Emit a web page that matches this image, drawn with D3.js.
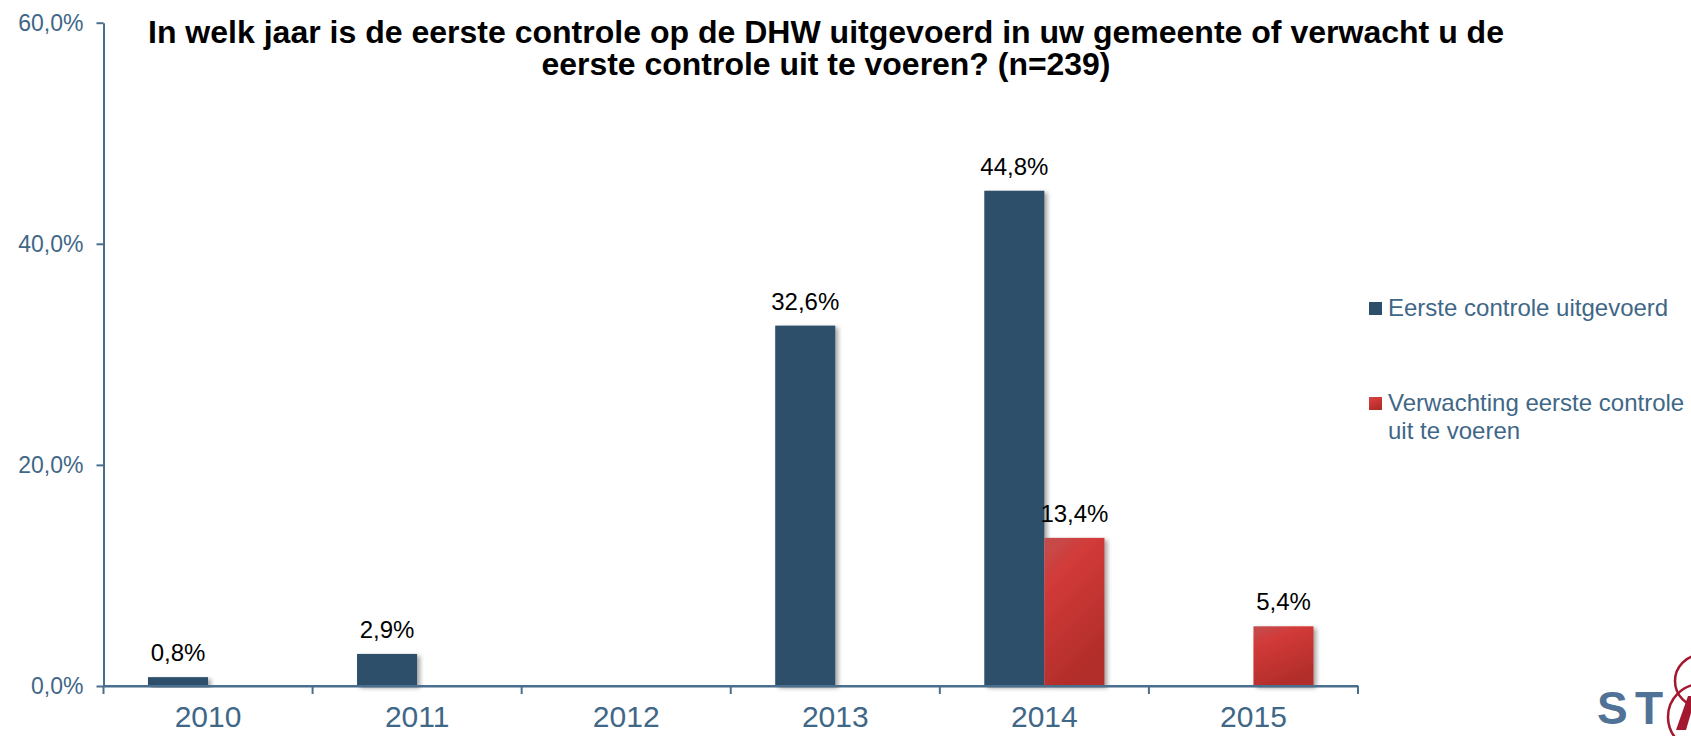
<!DOCTYPE html>
<html lang="nl">
<head>
  <meta charset="UTF-8">
  <title>Eerste controle DHW</title>
  <script src="https://d3js.org/d3.v7.min.js"></script>
  <style>
    body { margin: 0; background: #fff; }
    svg { display: block; font-family: "Liberation Sans", Arial, sans-serif; }
  </style>
</head>
<body>
<svg id="chart" width="1691" height="736"></svg>
<script>
  // data
  const years = ["2010", "2011", "2012", "2013", "2014", "2015"];
  const seriesNames = ["Eerste controle uitgevoerd", "Verwachting eerste controle uit te voeren"];
  const uitgevoerd = [0.8, 2.9, null, 32.6, 44.8, null];
  const verwachting = [null, null, null, null, 13.4, 5.4];
  const yTicks = [0, 20, 40, 60];

  const width = 1691, height = 736;
  const margin = { top: 22.7, right: 333, bottom: 50, left: 103.5 };

  const svg = d3.select("#chart");

  const nl = d3.formatLocale({ decimal: ",", thousands: ".", grouping: [3], currency: ["€ ", ""] });
  const pct = v => nl.format(".1f")(v) + "%";

  // gradients + shadow
  const defs = svg.append("defs");
  const red = defs.append("linearGradient").attr("id", "redGrad")
    .attr("x1", "0").attr("y1", "0").attr("x2", "0.4").attr("y2", "1");
  red.append("stop").attr("offset", "0%").attr("stop-color", "#c24f4f");
  red.append("stop").attr("offset", "30%").attr("stop-color", "#d23a38");
  red.append("stop").attr("offset", "100%").attr("stop-color", "#b22d2a");

  const shadow = defs.append("filter").attr("id", "shadow")
    .attr("x", "-10%").attr("y", "-10%").attr("width", "140%").attr("height", "130%");
  shadow.append("feDropShadow").attr("dx", 3).attr("dy", 2)
    .attr("stdDeviation", 2).attr("flood-color", "#000").attr("flood-opacity", 0.35);

  const x = d3.scaleBand()
    .domain(years)
    .range([margin.left, width - margin.right])
    .paddingInner(0).paddingOuter(0);

  const x1 = d3.scaleBand()
    .domain(seriesNames)
    .range([0, x.bandwidth()])
    .paddingInner(0).paddingOuter(0.74);

  const y = d3.scaleLinear()
    .domain([0, 60])
    .range([height - margin.bottom, margin.top]);

  const axisColor = "#4a6f8e";
  const labelColor = "#3f6787";

  // y axis
  const yAxis = svg.append("g")
    .attr("transform", `translate(${margin.left},0)`)
    .call(d3.axisLeft(y).tickValues(yTicks).tickFormat(pct).tickSize(7).tickSizeOuter(0).tickPadding(13));
  yAxis.select(".domain").attr("stroke", axisColor).attr("stroke-width", 2);
  yAxis.selectAll(".tick line").attr("stroke", axisColor).attr("stroke-width", 2);
  yAxis.selectAll(".tick text").attr("fill", labelColor).attr("font-size", 23)
    .attr("font-family", "Liberation Sans, Arial, sans-serif");

  // x axis
  const xAxis = svg.append("g")
    .attr("transform", `translate(0,${y(0)})`)
    .call(d3.axisBottom(x).tickSize(0).tickPadding(20));
  xAxis.select(".domain").attr("stroke", axisColor).attr("stroke-width", 2);
  xAxis.selectAll(".tick text").attr("fill", labelColor).attr("font-size", 30)
    .attr("font-family", "Liberation Sans, Arial, sans-serif");
  // separators between categories
  xAxis.selectAll(".sep")
    .data(years.concat(["end"]))
    .join("line")
    .attr("class", "sep")
    .attr("x1", (d, i) => i < years.length ? x(d) : x(years[years.length - 1]) + x.bandwidth())
    .attr("x2", (d, i) => i < years.length ? x(d) : x(years[years.length - 1]) + x.bandwidth())
    .attr("y1", 0).attr("y2", 8)
    .attr("stroke", axisColor).attr("stroke-width", 2);

  const bars = [];
  years.forEach((yr, i) => {
    if (uitgevoerd[i] != null) bars.push({ year: yr, s: seriesNames[0], v: uitgevoerd[i] });
    if (verwachting[i] != null) bars.push({ year: yr, s: seriesNames[1], v: verwachting[i] });
  });

  const colors = { [seriesNames[0]]: "#2d4f69", [seriesNames[1]]: "url(#redGrad)" };

  svg.append("g").selectAll("rect")
    .data(bars)
    .join("rect")
    .attr("x", d => x(d.year) + x1(d.s))
    .attr("y", d => y(d.v))
    .attr("width", x1.bandwidth())
    .attr("height", d => y(0) - y(d.v))
    .attr("fill", d => colors[d.s])
    .attr("filter", "url(#shadow)");

  // redraw axis line on top of shadows
  svg.append("line")
    .attr("x1", margin.left).attr("x2", width - margin.right)
    .attr("y1", y(0)).attr("y2", y(0))
    .attr("stroke", axisColor).attr("stroke-width", 2);

  svg.append("g").selectAll("text")
    .data(bars)
    .join("text")
    .attr("x", d => x(d.year) + x1(d.s) + x1.bandwidth() / 2)
    .attr("y", d => y(d.v) - 16)
    .attr("text-anchor", "middle")
    .attr("font-size", 24)
    .attr("fill", "#000")
    .text(d => pct(d.v));

  // title
  const title = svg.append("text")
    .attr("text-anchor", "middle")
    .attr("font-weight", "bold")
    .attr("font-size", 31)
    .attr("fill", "#000");
  title.append("tspan").attr("x", 826).attr("y", 43)
    .attr("textLength", 1356).attr("lengthAdjust", "spacingAndGlyphs")
    .text("In welk jaar is de eerste controle op de DHW uitgevoerd in uw gemeente of verwacht u de");
  title.append("tspan").attr("x", 826).attr("y", 75)
    .attr("textLength", 569).attr("lengthAdjust", "spacingAndGlyphs")
    .text("eerste controle uit te voeren? (n=239)");

  // legend
  const legend = svg.append("g").attr("transform", "translate(1369,0)");
  const legendItems = [
    { name: seriesNames[0], lines: ["Eerste controle uitgevoerd"], top: 302 },
    { name: seriesNames[1], lines: ["Verwachting eerste controle", "uit te voeren"], top: 397 }
  ];
  legendItems.forEach(it => {
    legend.append("rect")
      .attr("x", 0).attr("y", it.top).attr("width", 13).attr("height", 13)
      .attr("fill", colors[it.name]);
    const t = legend.append("text")
      .attr("font-size", 24).attr("fill", labelColor);
    it.lines.forEach((ln, j) => {
      t.append("tspan").attr("x", 19).attr("y", it.top + 14 + j * 28).text(ln);
    });
  });

  // logo (partly cut off at the right edge)
  const logo = svg.append("g");
  logo.append("text")
    .attr("x", 1597).attr("y", 724)
    .attr("font-size", 46).attr("font-weight", "bold")
    .attr("textLength", 66).attr("lengthAdjust", "spacing")
    .attr("fill", "#4f7296")
    .text("ST");
  logo.append("circle").attr("cx", 1701).attr("cy", 681).attr("r", 26)
    .attr("fill", "none").attr("stroke", "#a3172f").attr("stroke-width", 2.5);
  logo.append("circle").attr("cx", 1701).attr("cy", 717).attr("r", 33)
    .attr("fill", "none").attr("stroke", "#a3172f").attr("stroke-width", 2.5);
  logo.append("path").attr("d", "M1676,730 L1688,696 L1696,696 L1686,730 Z")
    .attr("fill", "#a3172f");
</script>
</body>
</html>
